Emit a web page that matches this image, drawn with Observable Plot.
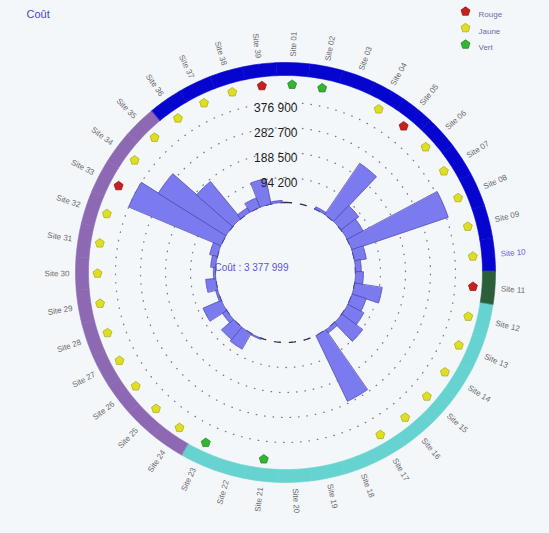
<!DOCTYPE html>
<html><head><meta charset="utf-8">
<script src="https://cdn.jsdelivr.net/npm/d3@7"></script>
<script src="https://cdn.jsdelivr.net/npm/@observablehq/plot@0.6"></script>
<style>
body{margin:0;background:#f4f7fa;}
#chart svg{display:block;}
</style>
</head><body><div id="chart"></div>
<script>
// ---------- data ----------
const title = "Coût";
const totalLabel = "Coût : 3 377 999";
const categories = ["Site 01","Site 02","Site 03","Site 04","Site 05","Site 06","Site 07","Site 08","Site 09","Site 10",
  "Site 11","Site 12","Site 13","Site 14","Site 15","Site 16","Site 17","Site 18","Site 19","Site 20",
  "Site 21","Site 22","Site 23","Site 24","Site 25","Site 26","Site 27","Site 28","Site 29","Site 30",
  "Site 31","Site 32","Site 33","Site 34","Site 35","Site 36","Site 37","Site 38","Site 39"];
const values = [0,0,0,9000,234000,83000,68000,384000,45000,22000,
  30000,105000,56000,68000,98000,15000,275000,0,0,0,
  0,0,5000,68000,60000,19000,75000,8000,38000,8000,
  19000,30000,377000,301000,181000,19000,38000,98000,8000];
const markerStatus = ["vert","vert",null,"jaune","rouge","jaune","jaune","jaune","jaune","jaune",
  "rouge","jaune","jaune","jaune","jaune","jaune","jaune",null,null,null,
  "vert",null,"vert","jaune","jaune","jaune","jaune","jaune","jaune","jaune",
  "jaune","jaune","rouge","jaune","jaune","jaune","jaune","jaune","rouge"];
const ringGroups = ["A","A","A","A","A","A","A","A","A","A",
  "B","C","C","C","C","C","C","C","C","C",
  "C","C","C","D","D","D","D","D","D","D",
  "D","D","D","D","D","A","A","A","A"];
const groupColors = {A:"#0505cf", B:"#2c5e3a", C:"#66d3d0", D:"#8d69b3"};
const statusColors = {rouge:"#c8201e", jaune:"#dede22", vert:"#33b533"};
const statusStroke = {rouge:"#8a1010", jaune:"#a8a818", vert:"#1f7f1f"};
const tickValues = [94200, 188500, 282700, 376900];
const tickLabels = ["94 200", "188 500", "282 700", "376 900"];
const maxValue = 471125;
const legendKeys = ["rouge","jaune","vert"];
const legendLabels = ["Rouge","Jaune","Vert"];
const highlighted = "Site 10";

// ---------- geometry helpers ----------
const W = 549, H = 533, CX = 285, CY = 272;
const angle = Plot.scale({x: {type: "band", domain: categories, range: [-2.6, 357.4], padding: 0}});
const radius = Plot.scale({y: {type: "linear", domain: [0, maxValue], range: [70, 195]}});
const bw = angle.bandwidth;
const mid = c => angle.apply(c) + bw / 2;
const rad = d => d * Math.PI / 180;
const px = (a, r) => r * Math.sin(rad(a));
const py = (a, r) => -r * Math.cos(rad(a));
function sector(key, a0, a1, r0, r1, n, extra) {
  const pts = [];
  for (let k = 0; k <= n; k++) { const a = a0 + (a1 - a0) * k / n; pts.push({key, x: px(a, r1), y: py(a, r1), ...extra}); }
  for (let k = n; k >= 0; k--) { const a = a0 + (a1 - a0) * k / n; pts.push({key, x: px(a, r0), y: py(a, r0), ...extra}); }
  return pts;
}
function circle(key, r, n) {
  return d3.range(n + 1).map(k => ({key, x: px(360 * k / n, r), y: py(360 * k / n, r)}));
}

const r0 = radius.apply(0);
const barPts = categories.flatMap((c, i) => values[i] > 0
  ? sector(c, angle.apply(c), angle.apply(c) + bw, r0, radius.apply(values[i]), 10, {}) : []);
const ringPts = categories.flatMap((c, i) =>
  sector(c, angle.apply(c), angle.apply(c) + bw, 197, 210, 10, {color: groupColors[ringGroups[i]]}));
const gridPts = tickValues.flatMap(v => circle(v, radius.apply(v), 220));
const innerPts = circle("inner", r0, 240);
const markers = categories.map((c, i) => ({c, s: markerStatus[i]})).filter(d => d.s);
const labels = categories.map(c => ({c, a: mid(c)}));
const rightLabels = labels.filter(d => d.a < 180);
const leftLabels = labels.filter(d => d.a >= 180);

const pentagon = {
  draw(ctx, size) {
    const R = Math.sqrt(size / Math.PI) * 1.1;
    for (let k = 0; k < 5; k++) {
      const t = -Math.PI / 2 + k * 2 * Math.PI / 5;
      const x = R * Math.cos(t), y = R * Math.sin(t);
      if (k === 0) ctx.moveTo(x, y); else ctx.lineTo(x, y);
    }
    ctx.closePath();
  }
};

const font = "Liberation Sans, Arial, sans-serif";
const chart = Plot.plot({
  width: W, height: H, margin: 0,
  x: {domain: [-CX, W - CX], range: [0, W], axis: null},
  y: {domain: [-CY, H - CY], range: [0, H], axis: null},
  color: {type: "identity"},
  style: {background: "#f4f7fa", fontFamily: font},
  marks: [
    Plot.line(gridPts, {x: "x", y: "y", z: "key", stroke: "#7a7a86", strokeWidth: 1.3, strokeDasharray: "0.5 8", strokeLinecap: "round"}),
    Plot.line(innerPts, {x: "x", y: "y", stroke: "#2e2e50", strokeWidth: 1.4, strokeDasharray: "6 9"}),
    Plot.line(barPts, {x: "x", y: "y", z: "key", fill: "#7b7bef", stroke: "#4d4db5", strokeWidth: 0.8, curve: "linear-closed"}),
    Plot.line(ringPts, {x: "x", y: "y", z: "key", fill: "color", stroke: "color", strokeWidth: 0.6, curve: "linear-closed"}),
    Plot.text(tickValues, {x: 12, y: d => -radius.apply(d) + 1, text: (d, i) => tickLabels[i], textAnchor: "end", lineAnchor: "top", fontSize: 12, fill: "#1e1e1e"}),
    Plot.dot(markers, {x: d => px(mid(d.c), 188), y: d => py(mid(d.c), 188), fill: d => statusColors[d.s], stroke: d => statusStroke[d.s], strokeWidth: 0.7, symbol: pentagon, r: 4.3}),
    Plot.text(rightLabels, {x: d => px(d.a, 216), y: d => py(d.a, 216), text: "c", rotate: d => d.a - 90, textAnchor: "start", fontSize: 8, fill: d => d.c === highlighted ? "#6262e6" : "#6a6a6a"}),
    Plot.text(leftLabels, {x: d => px(d.a, 216), y: d => py(d.a, 216), text: "c", rotate: d => d.a + 90, textAnchor: "end", fontSize: 8, fill: d => d.c === highlighted ? "#6262e6" : "#6a6a6a"}),
    Plot.text([totalLabel], {x: -71, y: -5, text: d => d, textAnchor: "start", fontSize: 10, fill: "#5656d8"}),
    Plot.text([title], {frameAnchor: "top-left", dx: 26, dy: 10, text: d => d, textAnchor: "start", fontSize: 11, fill: "#4646c8"}),
    ...legendKeys.map((k, i) => Plot.dot([k], {frameAnchor: "top-right", dx: -84, dy: 11 + i * 16.5, fill: statusColors[k], stroke: statusStroke[k], strokeWidth: 0.7, symbol: pentagon, r: 4.3})),
    ...legendLabels.map((l, i) => Plot.text([l], {frameAnchor: "top-right", dx: -71, dy: 11 + i * 16.5, text: d => d, textAnchor: "start", fontSize: 8, fill: "#6c6ca8"}))
  ]
});
document.getElementById("chart").append(chart);
</script>
</body></html>
